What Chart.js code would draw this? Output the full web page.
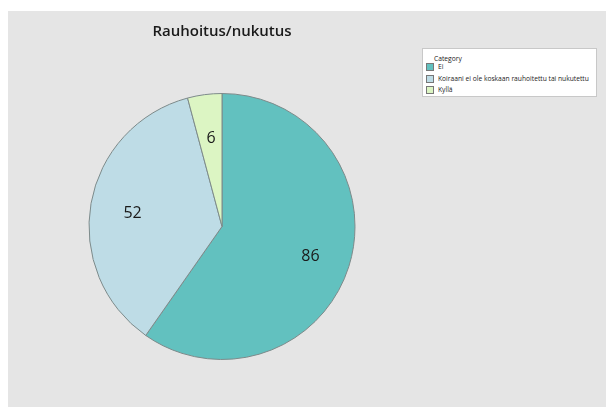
<!DOCTYPE html>
<html>
<head>
<meta charset="utf-8">
<script src="https://cdn.jsdelivr.net/npm/chart.js@4"></script>
<style>
  html, body { margin: 0; padding: 0; background: #ffffff; width: 606px; height: 407px; overflow: hidden; }
  #panel { position: absolute; left: 8px; top: 11px; width: 598px; height: 396px; background: #e5e5e5; }
  #wrap { position: absolute; left: 0; top: 0; width: 428px; height: 396px; }
  #legend { position: absolute; left: 414px; top: 37px; width: 175px; height: 49px; background: #ffffff;
            border: 1px solid #c8c8c8; box-sizing: border-box; font-family: "Open Sans", "Noto Sans", sans-serif;
            font-size: 6.7px; color: #222; }
  #legend .title { position: absolute; left: 11px; top: 5px; }
  #legend .item { position: absolute; left: 3px; height: 8px; line-height: 8px; white-space: nowrap; }
  #legend .sw { display: inline-block; width: 6px; height: 6px; border: 0.5px solid #777; vertical-align: middle; margin-right: 4px; }
</style>
</head>
<body>
<div id="panel">
  <div id="wrap"><canvas id="c"></canvas></div>
  <div id="legend"></div>
</div>
<script>
const categories = ["Ei", "Koiraani ei ole koskaan rauhoitettu tai nukutettu", "Kyllä"];
const values = [86, 52, 6];
const colors = ["#62c1bf", "#bedce6", "#dcf5c3"];
const chartTitle = "Rauhoitus/nukutus";
const legendTitle = "Category";

// HTML legend built from the arrays
const lg = document.getElementById('legend');
const t = document.createElement('div');
t.className = 'title';
t.textContent = legendTitle;
lg.appendChild(t);
const itemTops = [15, 26.5, 38];
categories.forEach((c, i) => {
  const d = document.createElement('div');
  d.className = 'item';
  d.style.top = (itemTops[i] - 1) + 'px';
  const s = document.createElement('span');
  s.className = 'sw';
  s.style.background = colors[i];
  d.appendChild(s);
  d.appendChild(document.createTextNode(c));
  lg.appendChild(d);
});

const sliceLabels = {
  id: 'sliceLabels',
  afterDatasetsDraw(chart) {
    const ctx = chart.ctx;
    const meta = chart.getDatasetMeta(0);
    ctx.save();
    ctx.font = '16px "Open Sans", "Noto Sans", sans-serif';
    ctx.fillStyle = '#1a1a1a';
    ctx.textAlign = 'center';
    ctx.textBaseline = 'alphabetic';
    meta.data.forEach((arc, i) => {
      const p = arc.getProps(['x', 'y', 'startAngle', 'endAngle', 'outerRadius'], true);
      const mid = (p.startAngle + p.endAngle) / 2;
      const r = p.outerRadius * 0.69;
      ctx.fillText(String(chart.data.datasets[0].data[i]), p.x + Math.cos(mid) * r + 1, p.y + Math.sin(mid) * r + 7);
    });
    ctx.restore();
  }
};

new Chart(document.getElementById('c'), {
  type: 'pie',
  data: {
    labels: categories,
    datasets: [{
      data: values,
      backgroundColor: colors,
      borderColor: '#7d8a8a',
      borderWidth: 1
    }]
  },
  options: {
    responsive: true,
    maintainAspectRatio: false,
    animation: false,
    layout: { padding: { top: 0, bottom: 47, left: 80, right: 80 } },
    plugins: {
      legend: { display: false },
      tooltip: { enabled: false },
      title: {
        display: true,
        text: chartTitle,
        color: '#1a1a1a',
        font: { family: '"Open Sans", "Noto Sans", sans-serif', size: 15, weight: '600' },
        padding: { top: 12, bottom: 52 }
      }
    }
  },
  plugins: [sliceLabels]
});
</script>
</body>
</html>
